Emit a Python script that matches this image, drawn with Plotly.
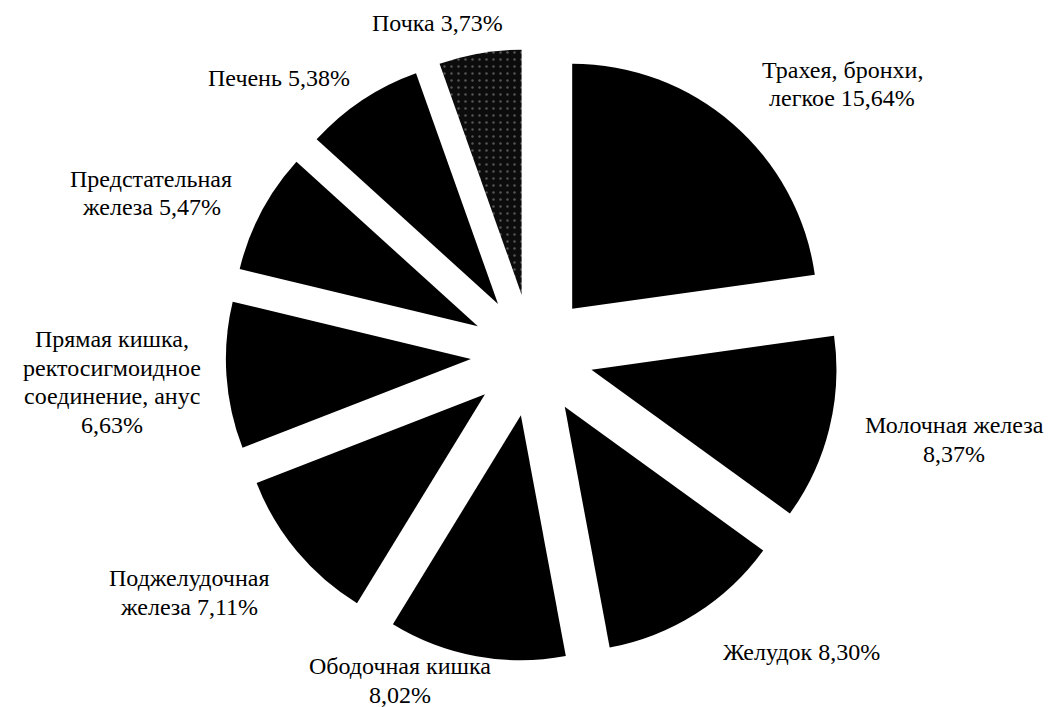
import plotly.graph_objects as go

# ---- data ----
organs = [
    "Трахея, бронхи, легкое",
    "Молочная железа",
    "Желудок",
    "Ободочная кишка",
    "Поджелудочная железа",
    "Прямая кишка, ректосигмоидное соединение, анус",
    "Предстательная железа",
    "Печень",
    "Почка",
]
shares = [15.64, 8.37, 8.30, 8.02, 7.11, 6.63, 5.47, 5.38, 3.73]
share_text = ["15,64%", "8,37%", "8,30%", "8,02%", "7,11%", "6,63%", "5,47%", "5,38%", "3,73%"]

# label lines as printed on the chart
label_lines = [
    ["Трахея, бронхи,", "легкое 15,64%"],
    ["Молочная железа", "8,37%"],
    ["Желудок 8,30%"],
    ["Ободочная кишка", "8,02%"],
    ["Поджелудочная", "железа 7,11%"],
    ["Прямая кишка,", "ректосигмоидное", "соединение, анус", "6,63%"],
    ["Предстательная", "железа 5,47%"],
    ["Печень 5,38%"],
    ["Почка 3,73%"],
]

# ---- layout / style ----
W, H = 1056, 707
label_pos = [  # centre of first line (px from top-left)
    (842, 70),
    (954, 425),
    (801, 652),
    (400, 666),
    (189, 578),
    (112, 339),
    (151, 179),
    (279, 78),
    (437, 23),
]
line_step = 28.5
font_size = 24

cx, cy = 532, 355
half = 306.25

fig = go.Figure(go.Pie(
    labels=organs,
    values=shares,
    sort=False,
    direction="clockwise",
    rotation=0,
    pull=[0.25] * len(shares),
    textinfo="none",
    hoverinfo="label+value",
    showlegend=False,
    marker=dict(
        colors=["#000000"] * 8 + ["#101010"],
        line=dict(width=0),
        pattern=dict(
            shape=[""] * 8 + ["."],
            fgcolor="#555555",
            bgcolor="#0c0c0c",
            size=7,
            solidity=0.1,
        ),
    ),
    domain=dict(
        x=[(cx - half) / W, (cx + half) / W],
        y=[(H - cy - half) / H, (H - cy + half) / H],
    ),
))

annotations = []
for lines, (px, py) in zip(label_lines, label_pos):
    for i, t in enumerate(lines):
        annotations.append(dict(
            text=t,
            x=px / W,
            y=1 - (py + i * line_step) / H,
            xref="paper", yref="paper",
            xanchor="center", yanchor="middle",
            showarrow=False,
            font=dict(family="Liberation Serif, Times New Roman, serif", size=font_size, color="black"),
        ))

fig.update_layout(
    width=W, height=H,
    margin=dict(l=0, r=0, t=0, b=0),
    paper_bgcolor="white",
    plot_bgcolor="white",
    annotations=annotations,
)

fig.write_html(
    "out.html",
    config={"displayModeBar": False},
    post_script="document.body.style.margin='0';document.body.style.overflow='hidden';",
)
